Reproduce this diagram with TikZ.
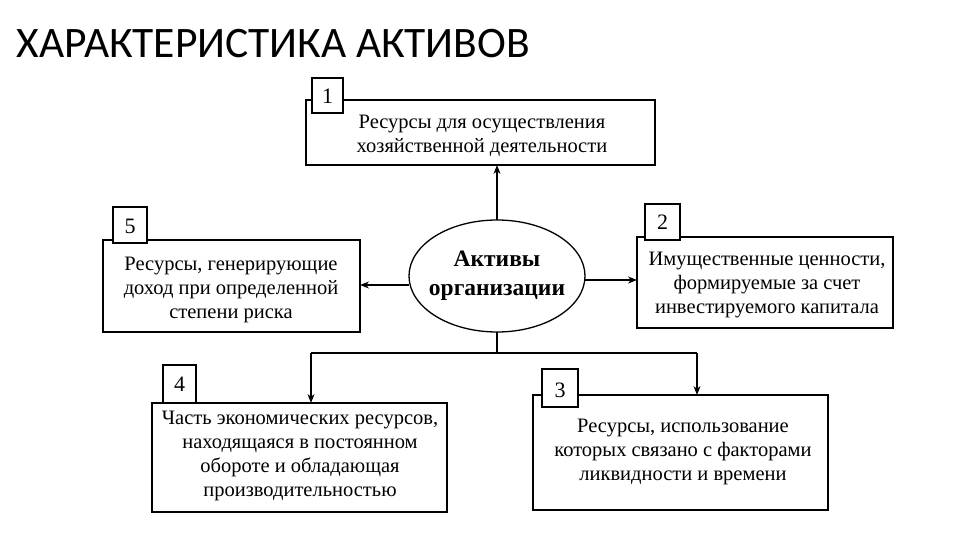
\documentclass[tikz,border=0pt]{standalone}
\usepackage{fontspec}
\setmainfont{Liberation Serif}
\newfontfamily\titlefont{Carlito}
\usetikzlibrary{arrows.meta}
\begin{document}
\begin{tikzpicture}[x=1pt,y=-1pt,
  box/.style={draw,line width=1.3pt,fill=white},
  num/.style={font=\fontsize{22}{24}\selectfont},
  txt/.style={align=center,font=\fontsize{20.5}{24}\selectfont},
  arr/.style={line width=1.3pt,-{Stealth[length=9pt,width=7pt]}}]
\useasboundingbox (0,0) rectangle (960,540);
\node[anchor=west,font=\titlefont\fontsize{43.5}{46}\selectfont] (title) at (13,44) {ХАРАКТЕРИСТИКА АКТИВОВ};
% boxes
\draw[box] (306,100) rectangle (655,165);
\node[txt] (b1) at (482,136) {Ресурсы для осуществления\\хозяйственной деятельности};
\draw[box] (312,78) rectangle (343,113); \node[num] (n1) at (327.5,96) {1};
\draw[box] (103,240) rectangle (360,332);
\node[txt] (b5) at (231,290) {Ресурсы, генерирующие\\доход при определенной\\степени риска};
\draw[box] (113,207) rectangle (147,243); \node[num] (n5) at (130,226) {5};
\draw[box] (637,237) rectangle (893,328);
\node[txt] (b2) at (767,285) {Имущественные ценности,\\формируемые за счет\\инвестируемого капитала};
\draw[box] (645,204) rectangle (680,240); \node[num] (n2) at (662.5,222) {2};
\draw[box] (152,403) rectangle (447,512);
\node[txt] (b4) at (300,456) {Часть экономических ресурсов,\\находящаяся в постоянном\\обороте и обладающая\\производительностью};
\draw[box] (163,365) rectangle (196,403); \node[num] (n4) at (179.5,384) {4};
\draw[box] (533,395) rectangle (828,510);
\node[txt] (b3) at (683,452) {Ресурсы, использование\\которых связано с факторами\\ликвидности и времени};
\draw[box] (542,369) rectangle (578,407); \node[num] (n3) at (560,390) {3};
% ellipse
\draw[line width=1.3pt] (497,276) ellipse [x radius=88, y radius=56];
\node[align=center,font=\bfseries\fontsize{23.5}{29}\selectfont] (c) at (497,276) {Активы\\организации};
% connectors
\coordinate (et) at (497,220); \coordinate (t1) at (497,165);
\coordinate (el) at (409,285); \coordinate (t5) at (360,285);
\coordinate (er) at (585,280); \coordinate (t2) at (637,280);
\coordinate (eb) at (497,332); \coordinate (j) at (497,353);
\coordinate (jl) at (311,353); \coordinate (jr) at (697,353);
\coordinate (t4) at (311,403); \coordinate (t3) at (697,395);
\draw[arr] (et) -- (t1);
\draw[arr] (el) -- (t5);
\draw[arr] (er) -- (t2);
\draw[line width=1.3pt] (eb) -- (j);
\draw[line width=1.3pt] (jl) -- (jr);
\draw[arr] (jl) -- (t4);
\draw[arr] (jr) -- (t3);
\end{tikzpicture}
\end{document}
